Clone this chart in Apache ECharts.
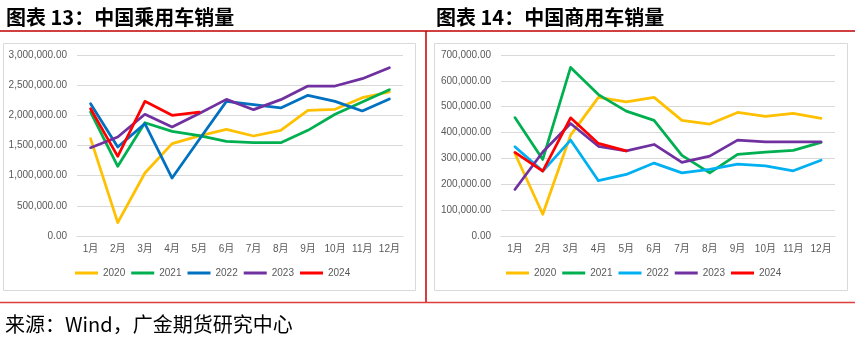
<!DOCTYPE html>
<html>
<head>
<meta charset="utf-8">
<script src="https://cdn.jsdelivr.net/npm/echarts@6/dist/echarts.min.js"></script>
<style>
html,body{margin:0;padding:0;background:#fff;}
#c{width:855px;height:340px;}
</style>
</head>
<body>
<div id="c"></div>
<script>
var months = ['1月','2月','3月','4月','5月','6月','7月','8月','9月','10月','11月','12月'];
var years = ['2020','2021','2022','2023','2024'];

// 中国乘用车销量
var pc2020 = [1613000, 221000, 1044000, 1530000, 1660000, 1768000, 1657000, 1751000, 2083000, 2099000, 2293000, 2387000];
var pc2021 = [2055000, 1155000, 1878000, 1735000, 1663000, 1569000, 1547000, 1547000, 1751000, 2017000, 2221000, 2425000];
var pc2022 = [2193000, 1475000, 1862000, 961000, 1600000, 2232000, 2177000, 2122000, 2331000, 2232000, 2072000, 2271000];
var pc2023 = [1464000, 1641000, 2017000, 1807000, 2030000, 2265000, 2094000, 2260000, 2486000, 2486000, 2608000, 2790000];
var pc2024 = [2110000, 1320000, 2232000, 2000000, 2055000];

// 中国商用车销量
var cv2020 = [319000, 84000, 390000, 536000, 519000, 536000, 447000, 433000, 478000, 463000, 474000, 455000];
var cv2021 = [458000, 296000, 652000, 547000, 483000, 447000, 312000, 244000, 316000, 324000, 331000, 362000];
var cv2022 = [345000, 251000, 371000, 214000, 238000, 282000, 244000, 258000, 278000, 271000, 252000, 293000];
var cv2023 = [180000, 325000, 435000, 347000, 329000, 354000, 285000, 309000, 371000, 364000, 364000, 364000];
var cv2024 = [323000, 251000, 457000, 358000, 329000];

var leftColors = ['#FFC000', '#00B050', '#0070C0', '#7030A0', '#FF0000'];
var rightColors = ['#FFC000', '#00B050', '#00B0F0', '#7030A0', '#FF0000'];

function fmt(v) {
  var s = Math.round(v).toString();
  s = s.replace(/\B(?=(\d{3})+(?!\d))/g, ',');
  return s + '.00';
}

var labelFont = 'Liberation Sans, Noto Sans CJK SC, sans-serif';
var grey = '#595959';
var gridColor = '#D9D9D9';

function yAxis(idx, max, interval) {
  return {
    type: 'value', gridIndex: idx, min: 0, max: max, interval: interval,
    axisLine: {show: false}, axisTick: {show: false},
    splitLine: {lineStyle: {color: gridColor, width: 1}},
    axisLabel: {color: grey, fontSize: 10, fontFamily: labelFont, margin: 10, formatter: fmt}
  };
}
function xAxis(idx) {
  return {
    type: 'category', gridIndex: idx, data: months, boundaryGap: true,
    axisLine: {show: true, lineStyle: {color: gridColor}}, axisTick: {show: false},
    axisLabel: {color: grey, fontSize: 10, fontFamily: labelFont, margin: 8, interval: 0}
  };
}
function line(name, data, color, idx) {
  return {
    type: 'line', name: name, data: data, xAxisIndex: idx, yAxisIndex: idx,
    showSymbol: false, symbol: 'none', smooth: false,
    lineStyle: {color: color, width: 2.75, cap: 'round', join: 'round'},
    itemStyle: {color: color}, z: 3
  };
}
function legend(left, colors) {
  return {
    left: left, top: 268, padding: 0, icon: 'rect', itemWidth: 23, itemHeight: 3, itemGap: 6,
    textStyle: {color: grey, fontSize: 10, fontFamily: labelFont},
    data: years.map(function (y, i) { return {name: y, itemStyle: {color: colors[i]}}; })
  };
}

var pcData = [pc2020, pc2021, pc2022, pc2023, pc2024];
var cvData = [cv2020, cv2021, cv2022, cv2023, cv2024];
var series = [];
years.forEach(function (y, i) { series.push(line(y, pcData[i], leftColors[i], 0)); });
years.forEach(function (y, i) { series.push(line(y, cvData[i], rightColors[i], 1)); });

var chart = echarts.init(document.getElementById('c'), null, {renderer: 'canvas'});
chart.setOption({
  animation: false,
  backgroundColor: '#ffffff',
  title: [
    {text: '图表 13：中国乘用车销量', left: 6, top: 7, padding: 0,
     textStyle: {fontFamily: 'Noto Sans CJK SC', fontWeight: 'bold', fontSize: 20, color: '#000'}},
    {text: '图表 14：中国商用车销量', left: 436, top: 7, padding: 0,
     textStyle: {fontFamily: 'Noto Sans CJK SC', fontWeight: 'bold', fontSize: 20, color: '#000'}},
    {text: '来源：Wind，广金期货研究中心', left: 5, top: 314, padding: 0,
     textStyle: {fontFamily: 'Noto Sans CJK SC', fontWeight: 'normal', fontSize: 20, color: '#000'}}
  ],
  graphic: [
    {type: 'rect', shape: {x: 3.5, y: 43.5, width: 412, height: 247}, style: {fill: 'none', stroke: gridColor, lineWidth: 1}, z: -1},
    {type: 'rect', shape: {x: 434.5, y: 43.5, width: 413, height: 247}, style: {fill: 'none', stroke: gridColor, lineWidth: 1}, z: -1},
    {type: 'line', shape: {x1: 0, y1: 31, x2: 855, y2: 31}, style: {stroke: '#C00000', lineWidth: 1.5}},
    {type: 'line', shape: {x1: 426, y1: 31, x2: 426, y2: 302}, style: {stroke: '#C00000', lineWidth: 1.5}},
    {type: 'line', shape: {x1: 0, y1: 302.5, x2: 855, y2: 302.5}, style: {stroke: '#E03C3C', lineWidth: 1.5}}
  ],
  legend: [legend(75, leftColors), legend(506, rightColors)],
  grid: [
    {left: 77, right: 452, top: 55, bottom: 104, containLabel: false},
    {left: 501, right: 20, top: 55, bottom: 104, containLabel: false}
  ],
  xAxis: [xAxis(0), xAxis(1)],
  yAxis: [yAxis(0, 3000000, 500000), yAxis(1, 700000, 100000)],
  series: series
});
</script>
</body>
</html>
